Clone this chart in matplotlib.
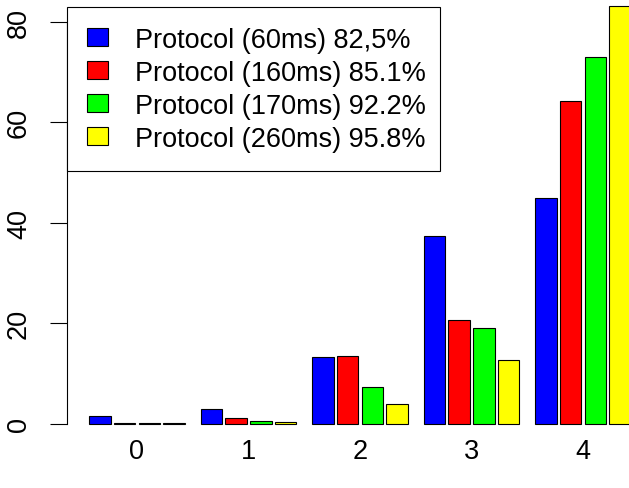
import matplotlib
matplotlib.use("Agg")
import matplotlib.pyplot as plt
import numpy as np

plt.rcParams['font.family'] = ['Liberation Sans', 'DejaVu Sans']

# ---------------- data ----------------
categories = ['0', '1', '2', '3', '4']
labels = ['Protocol (60ms) 82,5%', 'Protocol (160ms) 85.1%',
          'Protocol (170ms) 92.2%', 'Protocol (260ms) 95.8%']
p60 = [1.5, 3.0, 13.3, 37.4, 45.0]
p160 = [0.2, 1.2, 13.6, 20.7, 64.3]
p170 = [0.2, 0.5, 7.3, 19.1, 72.9]
p260 = [0.15, 0.3, 4.0, 12.7, 83.1]
colors = ['#0000FF', '#FF0000', '#00FF00', '#FFFF00']

# ---------------- layout (pixels) ----------------
W, H = 629, 489
fig = plt.figure(figsize=(W / 100, H / 100), dpi=100)

unit = 111.5 / 4.5   # px per bar step
x0px = 137.0         # px of first group centre
ppu = 5.029          # px per y unit
y0px = 425.0         # px of y = 0

xlim = (-2.825, 20.825)
ylim = (-3.3, 86.4)
left = x0px + xlim[0] * unit
right = x0px + xlim[1] * unit
bottom = y0px - ylim[0] * ppu
top = y0px - ylim[1] * ppu
ax = fig.add_axes([left / W, 1 - bottom / H, (right - left) / W, (bottom - top) / H])

# ---------------- bars ----------------
x = np.arange(len(categories)) * 4.5
for j, (vals, col, lab) in enumerate(zip([p60, p160, p170, p260], colors, labels)):
    ax.bar(x + j - 1.5, vals, width=0.87, color=col, edgecolor='black',
           linewidth=0.8, label=lab)

ax.set_xlim(*xlim)
ax.set_ylim(*ylim)

for s in ['top', 'right', 'bottom']:
    ax.spines[s].set_visible(False)
ax.spines['left'].set_bounds(0, 80)
ax.spines['left'].set_linewidth(0.8)

ax.set_xticks(x)
ax.set_xticklabels(categories, fontsize=19.5)
ax.tick_params(axis='x', length=0, pad=-2)

ax.set_yticks([0, 20, 40, 60, 80])
ax.tick_params(axis='y', length=12.2, width=0.8, pad=13, labelsize=19.5)
for t in ax.get_yticklabels():
    t.set_rotation(90)
    t.set_va('center')

leg_top = 1 - 8 / H
leg_bot = 1 - 171 / H
ax.legend(loc='upper left', bbox_to_anchor=(67 / W, leg_bot, (440 - 67) / W, leg_top - leg_bot),
          bbox_transform=fig.transFigure, mode='expand', borderaxespad=0,
          fontsize=19.5, frameon=True, fancybox=False, framealpha=1,
          edgecolor='black', handlelength=0.8, handleheight=0.64,
          handletextpad=1.0, borderpad=0.72, labelspacing=0.26)
ax.get_legend().get_frame().set_linewidth(0.8)

fig.savefig('out.png', dpi=100)
